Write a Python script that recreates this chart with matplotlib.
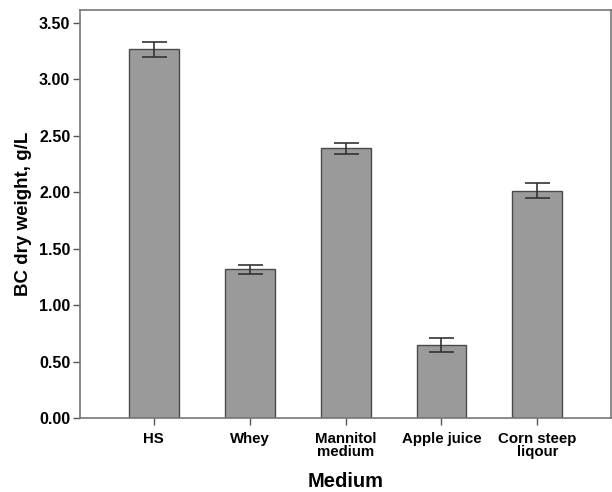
import numpy as np
import matplotlib
matplotlib.use('Agg')
import matplotlib.pyplot as plt

#data
media = ['HS', 'Whey', 'Mannitol\nmedium', 'Apple juice', 'Corn steep\nliqour']
dry_weight = [3.265, 1.32, 2.39, 0.65, 2.015]
err = [0.065, 0.04, 0.05, 0.063, 0.065]
yticks = [0.0, 0.5, 1.0, 1.5, 2.0, 2.5, 3.0, 3.5]

plt.rcParams['font.family'] = ['Liberation Sans', 'DejaVu Sans']

fig = plt.figure(figsize=(6.12, 4.92), dpi=100)
ax = fig.add_axes([0.1307, 0.1504, 0.868, 0.8293])

x = np.arange(len(media))
ax.bar(x, dry_weight, width=0.52, color='#9a9a9a', edgecolor='#4a4a4a', linewidth=1.0, zorder=2)
ax.errorbar(x, dry_weight, yerr=err, fmt='none', ecolor='#333333', elinewidth=1.2,
            capsize=9, capthick=1.2, zorder=3)

ax.set_xlim(-0.77, 4.77)
ax.set_ylim(0, 3.615)
ax.set_yticks(yticks)
ax.set_yticklabels(['%.2f' % v for v in yticks], fontsize=11.5, fontweight='bold')
ax.set_xticks(x)
ax.set_xticklabels(media, fontsize=10.8, fontweight='bold', linespacing=0.95)
ax.tick_params(axis='both', direction='out', length=5, width=1, color='#555555')
ax.tick_params(axis='y', pad=2)
ax.tick_params(axis='x', pad=5)

for s in ax.spines.values():
    s.set_color('#777777')
    s.set_linewidth(1.2)

ax.set_ylabel('BC dry weight, g/L', fontsize=13.5, fontweight='bold', labelpad=5)
ax.set_xlabel('Medium', fontsize=14.5, fontweight='bold', labelpad=9)

fig.savefig('out.png', dpi=100)
